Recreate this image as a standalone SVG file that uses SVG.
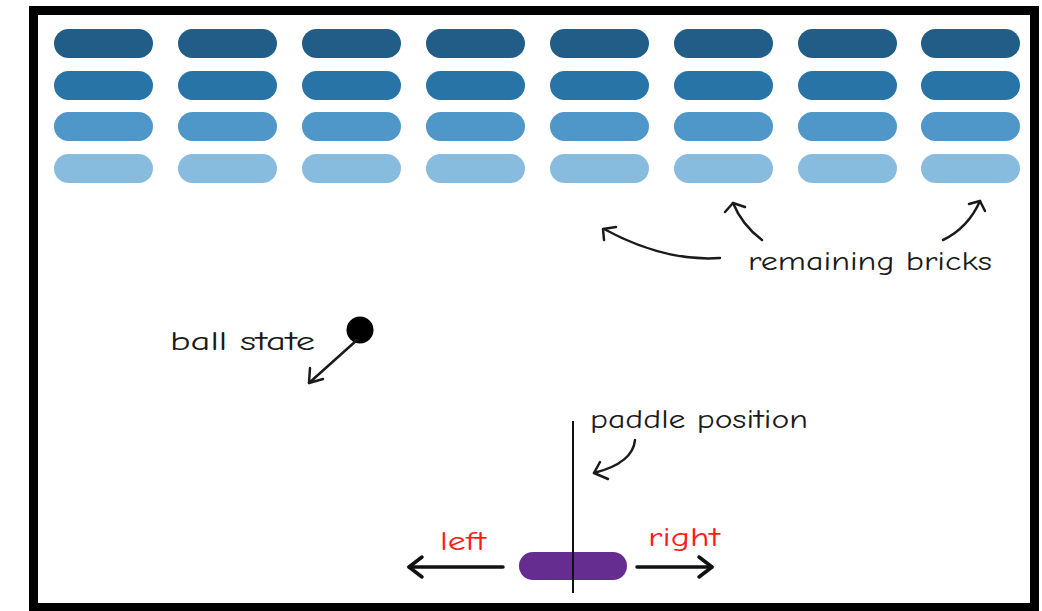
<svg xmlns="http://www.w3.org/2000/svg" width="1042" height="611" viewBox="0 0 1042 611">
<style>
.b{rx:14.5;ry:14.5}
.r1{fill:#225d87}.r2{fill:#2874a7}.r3{fill:#4f97c9}.r4{fill:#88bcdf}
.lbl{font-family:"Comic Neue","Comic Sans MS","DejaVu Sans",sans-serif;font-size:27px;fill:#1a1a1a}
.red{fill:#ff1a1a}
.ann{fill:none;stroke:#1a1a1a;stroke-width:2.5;stroke-linecap:round;stroke-linejoin:round}
.mv{fill:none;stroke:#111;stroke-width:3.5;stroke-linecap:round;stroke-linejoin:round}
</style>
<rect x="0" y="0" width="1042" height="611" fill="#fff"/>
<rect id="frame" x="33.5" y="10.5" width="1001" height="597" fill="#fff" stroke="#000" stroke-width="9"/>
<g id="bricks">
<g id="row1" class="r1">
<rect class="b" x="54" y="29" width="99" height="29"/><rect class="b" x="178" y="29" width="99" height="29"/><rect class="b" x="302" y="29" width="99" height="29"/><rect class="b" x="426" y="29" width="99" height="29"/><rect class="b" x="550" y="29" width="99" height="29"/><rect class="b" x="674" y="29" width="99" height="29"/><rect class="b" x="798" y="29" width="99" height="29"/><rect class="b" x="921" y="29" width="99" height="29"/>
</g>
<g id="row2" class="r2">
<rect class="b" x="54" y="71" width="99" height="29"/><rect class="b" x="178" y="71" width="99" height="29"/><rect class="b" x="302" y="71" width="99" height="29"/><rect class="b" x="426" y="71" width="99" height="29"/><rect class="b" x="550" y="71" width="99" height="29"/><rect class="b" x="674" y="71" width="99" height="29"/><rect class="b" x="798" y="71" width="99" height="29"/><rect class="b" x="921" y="71" width="99" height="29"/>
</g>
<g id="row3" class="r3">
<rect class="b" x="54" y="112" width="99" height="29"/><rect class="b" x="178" y="112" width="99" height="29"/><rect class="b" x="302" y="112" width="99" height="29"/><rect class="b" x="426" y="112" width="99" height="29"/><rect class="b" x="550" y="112" width="99" height="29"/><rect class="b" x="674" y="112" width="99" height="29"/><rect class="b" x="798" y="112" width="99" height="29"/><rect class="b" x="921" y="112" width="99" height="29"/>
</g>
<g id="row4" class="r4">
<rect class="b" x="54" y="154" width="99" height="29"/><rect class="b" x="178" y="154" width="99" height="29"/><rect class="b" x="302" y="154" width="99" height="29"/><rect class="b" x="426" y="154" width="99" height="29"/><rect class="b" x="550" y="154" width="99" height="29"/><rect class="b" x="674" y="154" width="99" height="29"/><rect class="b" x="798" y="154" width="99" height="29"/><rect class="b" x="921" y="154" width="99" height="29"/>
</g>
</g>
<g id="ball"><circle cx="360" cy="330" r="13.5" fill="#000"/></g>
<g id="paddle">
<rect x="519" y="552" width="108" height="28" rx="14" ry="14" fill="#652d90"/>
</g>
<g id="labels">
<text class="lbl" x="748" y="270" textLength="244" lengthAdjust="spacingAndGlyphs">remaining bricks</text>
<text class="lbl" x="170" y="350" textLength="145" lengthAdjust="spacingAndGlyphs">ball state</text>
<text class="lbl" x="590" y="428" textLength="218" lengthAdjust="spacingAndGlyphs">paddle position</text>
<text class="lbl red" x="440" y="550" textLength="46" lengthAdjust="spacingAndGlyphs">left</text>
<text class="lbl red" x="648" y="546" textLength="72" lengthAdjust="spacingAndGlyphs">right</text>
</g>
<g id="connectors">
<path class="ann" d="M720 258 Q665 262 604 229"/>
<path class="ann" d="M604 240 L603 229 L616 227"/>
<path class="ann" d="M762 240 Q742 225 733 203"/>
<path class="ann" d="M725 212 L733 203 L745 207"/>
<path class="ann" d="M943 240 Q968 228 980 201"/>
<path class="ann" d="M969 204 L980 201 L985 211"/>
<path class="ann" d="M357 340 L309 383"/>
<path class="ann" d="M310 368 L309 383 L323 379"/>
<line x1="573" y1="421" x2="573" y2="593" stroke="#111" stroke-width="2"/>
<path class="ann" d="M635 440 Q633 463 594 473"/>
<path class="ann" d="M600 462 L594 473 L608 479"/>
<path class="mv" d="M503 567 L409 567"/>
<path class="mv" d="M422 557 L409 567 L422 577"/>
<path class="mv" d="M637 567 L712 567"/>
<path class="mv" d="M699 557 L712 567 L699 577"/>
</g>
</svg>
